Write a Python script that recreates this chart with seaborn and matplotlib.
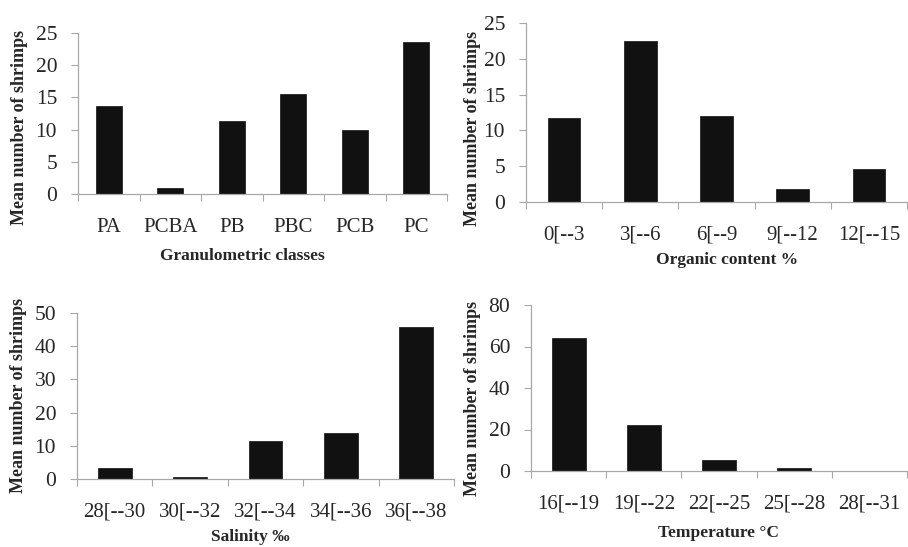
import matplotlib
matplotlib.use("Agg")
import matplotlib.pyplot as plt
import seaborn as sns
import pandas as pd

# ---- data ----
gran_classes = ["PA", "PCBA", "PB", "PBC", "PCB", "PC"]
gran_values = [13.7, 1.0, 11.4, 15.6, 10.0, 23.6]

org_classes = ["0[--3", "3[--6", "6[--9", "9[--12", "12[--15"]
org_values = [11.7, 22.5, 12.0, 1.8, 4.6]

sal_classes = ["28[--30", "30[--32", "32[--34", "34[--36", "36[--38"]
sal_values = [3.4, 0.7, 11.3, 14.0, 45.7]

temp_classes = ["16[--19", "19[--22", "22[--25", "25[--28", "28[--31"]
temp_values = [64.2, 22.0, 5.2, 1.6, 0.0]

ylabel_text = "Mean number of shrimps"

sns.set_style("white")
plt.rcParams["font.family"] = ["Liberation Serif", "DejaVu Serif"]

W, H = 908, 547
fig = plt.figure(figsize=(W / 100, H / 100), dpi=100)

def px_axes(l, r, t, b):
    return fig.add_axes([l / W, 1 - b / H, (r - l) / W, (b - t) / H])

panels = [
    dict(cats=gran_classes, vals=gran_values, box=(78, 447, 33, 194), ylim=25, step=5,
         width=0.43, xlabel="Granulometric classes", xl=(242, 248), yl=(28, 127)),
    dict(cats=org_classes, vals=org_values, box=(526, 907, 23, 202), ylim=25, step=5,
         width=0.43, xlabel="Organic content %", xl=(727, 252), yl=(481, 128)),
    dict(cats=sal_classes, vals=sal_values, box=(77, 454, 313, 479), ylim=50, step=10,
         width=0.45, xlabel="Salinity \u2030", xl=(250, 529), yl=(27, 395)),
    dict(cats=temp_classes, vals=temp_values, box=(531, 907, 305, 471), ylim=80, step=20,
         width=0.45, xlabel="Temperature \u00b0C", xl=(719, 525), yl=(481, 398)),
]

grey = "#a8a8a8"
for p in panels:
    ax = px_axes(*p["box"])
    df = pd.DataFrame({"cat": p["cats"], "val": p["vals"]})
    sns.barplot(data=df, x="cat", y="val", color="#111111", width=p["width"],
                saturation=1, ax=ax, edgecolor="#111111", linewidth=0.5)
    n = len(p["cats"])
    ax.set_xlim(-0.5, n - 0.5)
    ax.set_ylim(0, p["ylim"])
    ax.set_yticks(list(range(0, p["ylim"] + 1, p["step"])))
    ax.set_xticks(range(n))
    ax.set_xticks([i - 0.5 for i in range(n + 1)], minor=True)
    ax.tick_params(axis="x", which="major", length=0, pad=17, labelsize=15)
    ax.tick_params(axis="x", which="minor", length=5, width=0.8, color=grey, direction="out", bottom=True)
    ax.tick_params(axis="y", which="major", length=5, width=0.8, color=grey, direction="out",
                   pad=10, labelsize=15.5, left=True)
    for s in ["top", "right"]:
        ax.spines[s].set_visible(False)
    for s in ["left", "bottom"]:
        ax.spines[s].set_color(grey)
        ax.spines[s].set_linewidth(0.9)
    ax.set_xlabel(p["xlabel"], fontsize=12.5, fontweight="bold")
    ax.xaxis.set_label_coords(p["xl"][0] / W, 1 - p["xl"][1] / H, transform=fig.transFigure)
    ax.set_ylabel(ylabel_text, fontsize=13, fontweight="bold")
    ax.yaxis.set_label_coords(p["yl"][0] / W, 1 - p["yl"][1] / H, transform=fig.transFigure)
    ax.patch.set_alpha(0)

fig.savefig("out.png", dpi=100, facecolor="white")
